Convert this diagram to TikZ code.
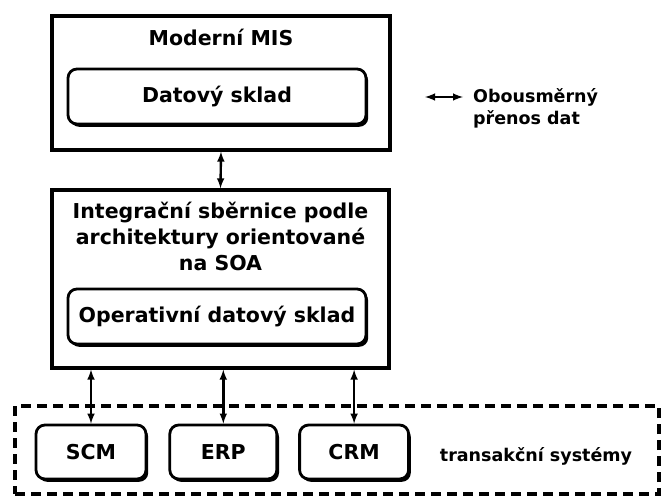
\documentclass[tikz,border=0pt]{standalone}
\usepackage{fontspec}
\setmainfont{DejaVu Sans}
\usetikzlibrary{arrows,positioning,shadows}

\tikzset{
  ramec/.style={draw, line width=3.2pt, fill=white, inner sep=0pt},
  sklad/.style={draw, line width=2.8pt, rounded corners=9pt, fill=white,
    minimum height=55pt, inner sep=0pt,
    drop shadow={shadow xshift=2.2pt, shadow yshift=-2.8pt, opacity=1, fill=black}},
  popis/.style={font=\fontsize{20.5}{26}\selectfont\bfseries, inner sep=0pt, align=center},
  maly/.style={font=\fontsize{17.5}{22}\selectfont\bfseries, inner sep=0pt, align=left},
  obousmer/.style={<->, >=latex, line width=2.4pt},
  oblast/.style={draw, line width=3.2pt, dash pattern=on 10pt off 6pt, inner sep=0pt},
}

\begin{document}
\begin{tikzpicture}[x=1pt, y=-1pt]
\useasboundingbox (0,0) rectangle (661,497);
\node[oblast, minimum width=644pt, minimum height=88pt] (transakce) at (337,450) {};
\node[popis, maly] (transakcepopis) at (536,456) {transakční systémy};

\node[ramec, minimum width=338pt, minimum height=134pt] (mis) at (221,83) {};
\node[popis] (misnadpis) at (221,37) {Moderní MIS};
\node[sklad, popis, minimum width=298pt] (datsklad) at (217,96.5) {Datový sklad};

\node[ramec, minimum width=337pt, minimum height=178pt] (sbernice) at (220.5,279) {};
\node[popis] (sbernicenadpis) at (220.5,236) {Integrační sběrnice podle\\architektury orientované\\na SOA};
\node[sklad, popis, minimum width=298pt] (opsklad) at (217,316.5) {Operativní datový sklad};

\node[sklad, popis, minimum width=110pt, minimum height=54pt] (scm) at (91,452) {SCM};
\node[sklad, popis, minimum width=107pt, minimum height=54pt, right=21pt of scm] (erp) {ERP};
\node[sklad, popis, minimum width=109pt, minimum height=54pt, right=20pt of erp] (crm) {CRM};

\draw[obousmer] (mis.south) -- (sbernice.north);
\draw[obousmer] (scm.north |- sbernice.south) -- (scm.north);
\draw[obousmer] (erp.north |- sbernice.south) -- (erp.north);
\draw[obousmer] (crm.north |- sbernice.south) -- (crm.north);

\coordinate (legendaA) at (425,97);
\coordinate (legendaB) at (463,97);
\draw[obousmer] (legendaA) -- (legendaB);
\node[maly, anchor=west] (legenda) at (473,108) {Obousměrný\\přenos dat};
\end{tikzpicture}
\end{document}
